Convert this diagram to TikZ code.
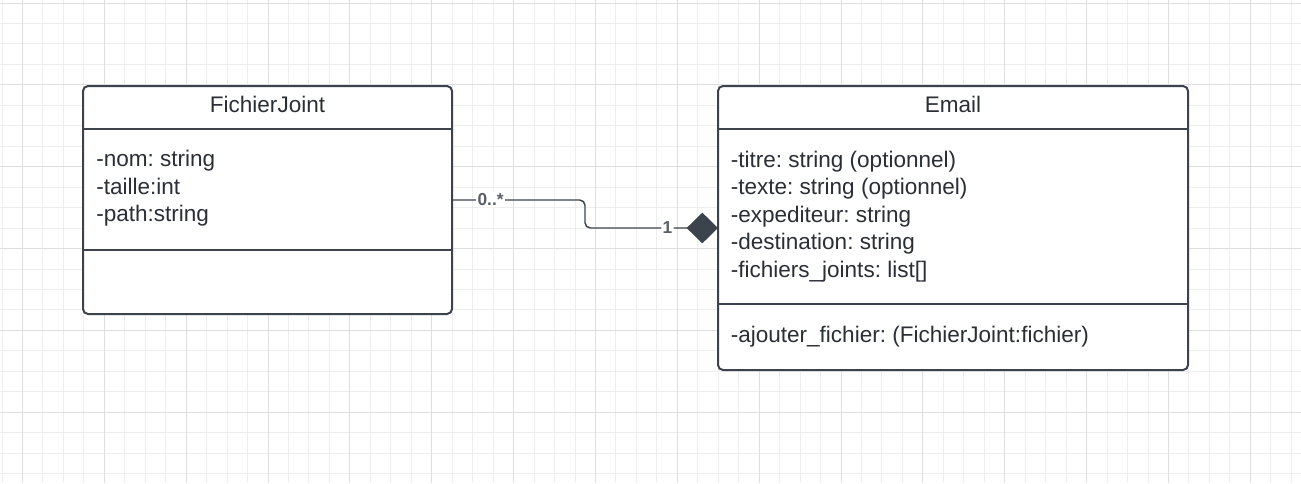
\documentclass[tikz,border=0pt]{standalone}
\usepackage{fontspec}
\setmainfont{Liberation Sans}
\usetikzlibrary{arrows.meta,fit,calc}
\frenchspacing

\definecolor{umlline}{HTML}{3D434D}
\definecolor{umltext}{HTML}{2A2E35}
\definecolor{multtext}{HTML}{5A5F66}
\definecolor{gridminor}{HTML}{EEEEEE}
\definecolor{gridmajor}{HTML}{DEDEDE}

\begin{document}
\begin{tikzpicture}[
    x=0.75pt, y=-0.75pt,
    classbox/.style={rectangle, draw=umlline, line width=1.5pt, rounded corners=3.75pt, fill=white, inner sep=0pt, outer sep=0pt},
    classname/.style={anchor=base, inner sep=0pt, text=umltext, font=\fontsize{16.9}{20.6}\selectfont},
    members/.style={anchor=north west, inner sep=0pt, align=left, text=umltext, font=\fontsize{16.9}{20.6}\selectfont, execute at begin node=\strut},
    divider/.style={draw=umlline, line width=1.5pt},
    assoc/.style={draw=umlline, line width=1.1pt, rounded corners=4pt},
    mult/.style={fill=white, inner sep=1pt, text=multtext, font=\fontsize{13}{15}\selectfont\bfseries}
]

% Background grid
\useasboundingbox (0,0) rectangle (1301,483);
\fill[white] (0,0) rectangle (1301,483);
\foreach \i in {0,...,63} \draw[gridminor, line width=0.75pt] ({2+\i*20.464},0) -- ({2+\i*20.464},483);
\foreach \j in {0,...,23} \draw[gridminor, line width=0.75pt] (0,{3+\j*20.464}) -- (1301,{3+\j*20.464});
\foreach \i in {0,...,15} \draw[gridmajor, line width=0.75pt] ({22.46+\i*81.856},0) -- ({22.46+\i*81.856},483);
\foreach \j in {0,...,5} \draw[gridmajor, line width=0.75pt] (0,{3+\j*81.856}) -- (1301,{3+\j*81.856});

% Class FichierJoint
\node[classbox, fit={(83,86) (452,314)}] (fichier) {};
\node[classname] (fichierName) at (267.5,112.3) {FichierJoint};
\draw[divider] (fichier.west |- 0,129) -- (fichier.east |- 0,129);
\draw[divider] (fichier.west |- 0,250) -- (fichier.east |- 0,250);
\node[members] (fichierAttrs) at (96,150.3) {-nom: string\\-taille:int\\-path:string};

% Class Email
\node[classbox, fit={(718,86) (1188,370)}] (email) {};
\node[classname] (emailName) at (953,112.3) {Email};
\draw[divider] (email.west |- 0,129) -- (email.east |- 0,129);
\draw[divider] (email.west |- 0,304) -- (email.east |- 0,304);
\node[members] (emailAttrs) at (730.5,150.8) {-titre: string (optionnel)\\-texte: string (optionnel)\\-expediteur: string\\-destination: string\\-fichiers\_joints: list[]};
\node[members] (emailOps) at (730.5,323.3) {-ajouter\_fichier: (FichierJoint:fichier)};

% Composition
\coordinate (bend) at ($(fichier.east)!0.5!(email.west)$);
\draw[assoc, -{Diamond[length=23.5pt, width=23pt]}] (fichier.east) -- node[mult, pos=0.29] (multFichier) {0..*} (fichier.east -| bend) -- (bend |- email.west) -- node[mult, pos=0.62] (multEmail) {1} (email.west);

\end{tikzpicture}
\end{document}
